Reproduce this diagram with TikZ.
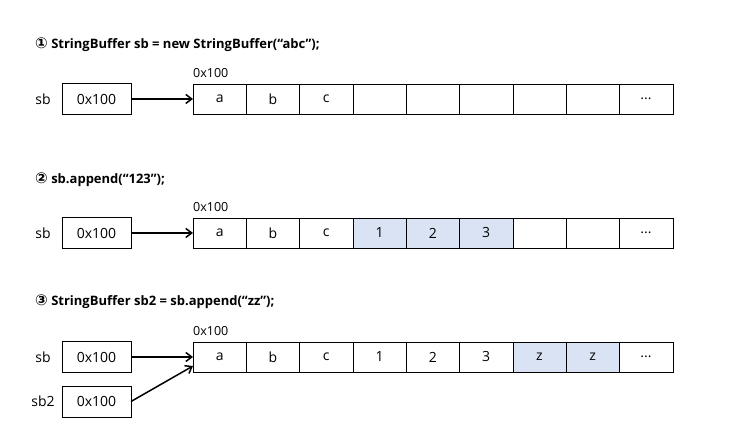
\documentclass[tikz,border=0pt]{standalone}
\usepackage{fontspec}
\setmainfont{Open Sans}
\newfontfamily\circfont{DejaVu Sans}
\usetikzlibrary{positioning,arrows.meta}
\definecolor{zelle}{HTML}{DAE3F3}
\newcommand\punkte{...}
\tikzset{
  zellbox/.style={draw,minimum width=53.3pt,minimum height=30pt,inner sep=0pt,outer sep=0pt,font=\fontsize{14}{16}\selectfont},
  varbox/.style={draw,minimum width=69pt,minimum height=31pt,inner sep=0pt,outer sep=0pt,font=\fontsize{14}{16}\selectfont},
  varname/.style={font=\fontsize{14}{16}\selectfont},
  titel/.style={anchor=west,inner sep=0pt,font=\bfseries\fontsize{13}{15}\selectfont},
  adr/.style={anchor=south west,inner sep=0pt,font=\fontsize{12.5}{14}\selectfont},
  pfeil/.style={line width=1.5pt,-{Straight Barb[length=6pt,width=9pt]}}
}
\begin{document}
\begin{tikzpicture}[x=1pt,y=-1pt]
\useasboundingbox (0,0) rectangle (750,435);
% Zeile 1
\node[titel] (t1) at (35,45) {{\circfont\fontsize{15}{15}\selectfont ①} StringBuffer sb = new StringBuffer(“abc”);};
\node[varbox] (sbA) at (96.5,99) {0x100};
\node[varname] (nA) at (43,99) {sb};
\foreach \i/\t/\f in {1/a/white,2/b/white,3/c/white,4//white,5//white,6//white,7//white,8//white,9/\punkte/white}{
  \node[zellbox,fill=\f] (a\i) at ({193+53.3*(\i-0.5)},99) {\t};
}
\node[adr] (adrA) at ([yshift=6pt]a1.north west) {0x100};
\draw[pfeil] (sbA.east) -- (a1.west);
% Zeile 2
\node[titel] (t2) at (35,180) {{\circfont\fontsize{15}{15}\selectfont ②} sb.append(“123”);};
\node[varbox] (sbB) at (96.5,233) {0x100};
\node[varname] (nB) at (43,233) {sb};
\foreach \i/\t/\f in {1/a/white,2/b/white,3/c/white,4/1/zelle,5/2/zelle,6/3/zelle,7//white,8//white,9/\punkte/white}{
  \node[zellbox,fill=\f] (b\i) at ({193+53.3*(\i-0.5)},233) {\t};
}
\node[adr] (adrB) at ([yshift=6pt]b1.north west) {0x100};
\draw[pfeil] (sbB.east) -- (b1.west);
% Zeile 3
\node[titel] (t3) at (35,302) {{\circfont\fontsize{15}{15}\selectfont ③} StringBuffer sb2 = sb.append(“zz”);};
\node[varbox] (sbC) at (96.5,357) {0x100};
\node[varname] (nC) at (43,357) {sb};
\node[varbox] (sbD) at (96.5,401.5) {0x100};
\node[varname] (nD) at (43,401.5) {sb2};
\foreach \i/\t/\f in {1/a/white,2/b/white,3/c/white,4/1/white,5/2/white,6/3/white,7/z/zelle,8/z/zelle,9/\punkte/white}{
  \node[zellbox,fill=\f] (c\i) at ({193+53.3*(\i-0.5)},357) {\t};
}
\node[adr] (adrC) at ([yshift=6pt]c1.north west) {0x100};
\coordinate (ziel) at ([yshift=-9pt]c1.west);
\draw[pfeil] (sbC.east) -- (c1.west);
\draw[pfeil] (sbD.east) -- (ziel);
\end{tikzpicture}
\end{document}
